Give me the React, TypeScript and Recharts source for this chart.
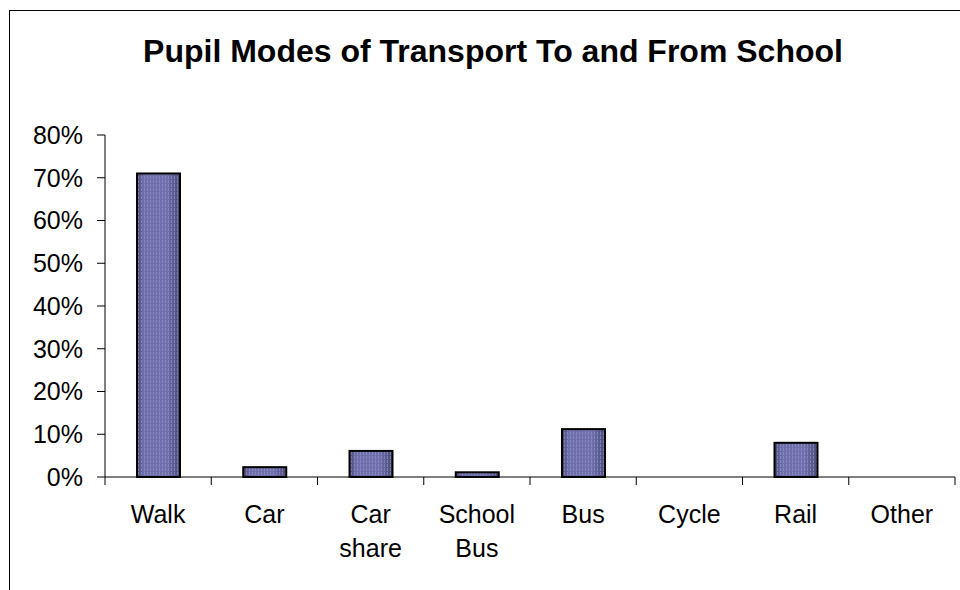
import { BarChart, Bar, XAxis, YAxis } from 'recharts';

const categories = ['Walk', 'Car', 'Car\nshare', 'School\nBus', 'Bus', 'Cycle', 'Rail', 'Other'];
const shares = [71, 2.3, 6.1, 1.1, 11.2, 0, 8, 0];
const yTicks = [0, 10, 20, 30, 40, 50, 60, 70, 80];

const data = categories.map((name, i) => ({ name, share: shares[i] }));

const FONT = '"Liberation Sans", Arial, sans-serif';

function BarShape(props: any) {
  const { x, y, width, height } = props;
  if (!height || height <= 0) return null;
  return (
    <g>
      <rect x={x} y={y} width={width} height={height} fill="url(#barShade)" />
      <rect x={x} y={y} width={width} height={height} fill="url(#barStripes)" />
      <rect x={x} y={y} width={width} height={height} fill="none" stroke="#000" strokeWidth={2} />
    </g>
  );
}

function CategoryTick(props: any) {
  const { x, y, payload, index, visibleTicksCount } = props;
  const half = payload && payload.offset ? payload.offset : 53;
  const lines = String(payload.value).split('\n');
  const axisY = y - 8;
  return (
    <g>
      <line x1={x - half} y1={axisY} x2={x - half} y2={axisY + 8} stroke="#000" />
      {index === visibleTicksCount - 1 && (
        <line x1={x + half} y1={axisY} x2={x + half} y2={axisY + 8} stroke="#000" />
      )}
      <text x={x} y={y} textAnchor="middle" fill="#000" fontSize={25} fontFamily={FONT}>
        {lines.map((l, i) => (
          <tspan key={i} x={x} dy={i === 0 ? 38 : 34}>
            {l}
          </tspan>
        ))}
      </text>
    </g>
  );
}

export default function App() {
  return (
    <div style={{ position: 'absolute', left: 0, top: 0, width: 960, height: 590, background: '#fff' }}>
      <div
        style={{
          position: 'absolute',
          left: 9,
          top: 10,
          width: 951,
          height: 580,
          borderTop: '1px solid #000',
          borderLeft: '1px solid #000',
        }}
      />
      <div
        style={{
          position: 'absolute',
          left: 13,
          top: 35,
          width: 960,
          textAlign: 'center',
          fontFamily: FONT,
          fontWeight: 'bold',
          fontSize: 32,
          lineHeight: '32px',
          color: '#000',
          whiteSpace: 'nowrap',
        }}
      >
        Pupil Modes of Transport To and From School
      </div>
      <div style={{ position: 'absolute', left: 0, top: 0 }}>
        <BarChart width={960} height={590} data={data} margin={{ top: 135, right: 5, bottom: 0, left: 0 }}>
          <defs>
            <linearGradient id="barShade" x1="0" y1="0" x2="1" y2="0">
              <stop offset="0%" stopColor="#454570" />
              <stop offset="15%" stopColor="#6e6eaa" />
              <stop offset="70%" stopColor="#7070ac" />
              <stop offset="100%" stopColor="#4a4a78" />
            </linearGradient>
            <pattern id="barStripes" width="3" height="4" patternUnits="userSpaceOnUse">
              <rect x="0" y="0" width="1" height="3" fill="#9a9ad2" opacity="0.55" />
            </pattern>
          </defs>
          <XAxis
            dataKey="name"
            interval={0}
            height={113}
            tickLine={false}
            tickSize={8}
            tickMargin={0}
            axisLine={{ stroke: '#000' }}
            tick={<CategoryTick />}
          />
          <YAxis
            width={105}
            domain={[0, 80]}
            ticks={yTicks}
            interval={0}
            tickSize={8}
            tickMargin={14}
            tickFormatter={(v: number) => `${v}%`}
            tick={{ fill: '#000', fontSize: 25, fontFamily: FONT }}
            tickLine={{ stroke: '#000' }}
            axisLine={{ stroke: '#000' }}
          />
          <Bar dataKey="share" barSize={43} shape={<BarShape />} isAnimationActive={false} />
        </BarChart>
      </div>
    </div>
  );
}
